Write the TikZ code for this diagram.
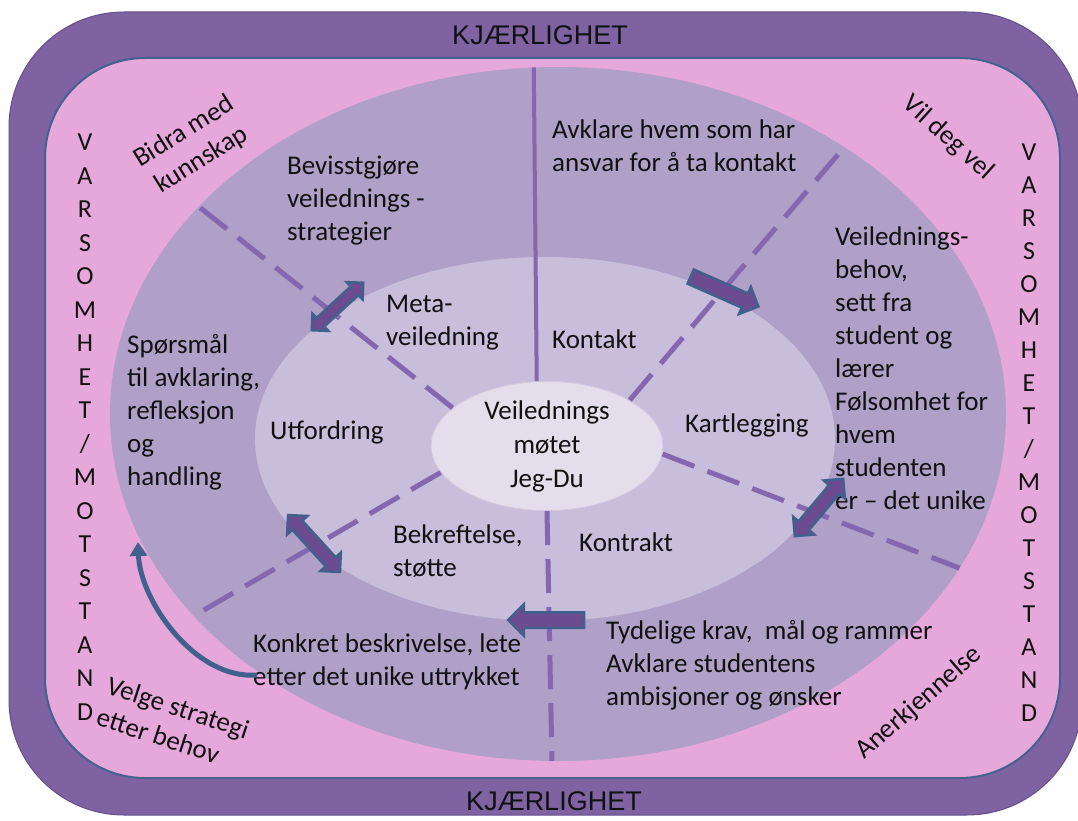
\documentclass[tikz,border=0pt]{standalone}
\usepackage{fontspec}
\setmainfont{Carlito}
\newfontfamily\capsfont{Liberation Sans}
\usetikzlibrary{shapes.geometric, shapes.arrows, arrows.meta}
\definecolor{loveband}{HTML}{7E62A1}
\definecolor{bandedge}{HTML}{654E8C}
\definecolor{pinkzone}{HTML}{E6A8DB}
\definecolor{zoneedge}{HTML}{44618F}
\definecolor{ringfill}{HTML}{B09FC7}
\definecolor{midfill}{HTML}{C8BDDA}
\definecolor{corefill}{HTML}{E4DEEC}
\definecolor{coreedge}{HTML}{D2C8E0}
\definecolor{spokepurple}{HTML}{8467AE}
\definecolor{arrowfill}{HTML}{6C4B90}
\definecolor{arrowedge}{HTML}{41618D}
\definecolor{inktext}{HTML}{111111}

\begin{document}
\begin{tikzpicture}[x=1pt, y=-1pt,
  txt/.style={font=\fontsize{27}{33}\selectfont, text=inktext, inner sep=0pt, align=left},
  wall/.style={font=\fontsize{26}{33.5}\selectfont, text=inktext, inner sep=0pt, align=center},
  spoke/.style={draw=spokepurple, line width=4pt},
  dashspoke/.style={draw=spokepurple, line width=5pt, dash pattern=on 34pt off 14pt},
  twoway/.style={double arrow, draw=arrowedge, fill=arrowfill, line width=2.5pt, double arrow tip angle=90},
  oneway/.style={single arrow, draw=arrowedge, fill=arrowfill, line width=2.5pt, single arrow tip angle=90}]
  \useasboundingbox (0,0) rectangle (1078,821);
  \clip (0,0) rectangle (1078,821);
  \fill[white] (0,0) rectangle (1078,821);

  \path[fill=loveband, draw=bandedge, line width=1pt, rounded corners=115pt] (9,12) rectangle (1082,815);
  \path[fill=pinkzone, draw=zoneedge, line width=2pt, rounded corners=100pt] (45,58) rectangle (1060,778);

  \node[font=\capsfont\fontsize{27}{30}\selectfont, text=inktext] (lovetop) at (540,35) {KJÆRLIGHET};
  \node[font=\capsfont\fontsize{27}{30}\selectfont, text=inktext] (lovebottom) at (554,801) {KJÆRLIGHET};

  \node[ellipse, fill=ringfill, minimum width=896pt, minimum height=694pt, inner sep=0pt] (ring) at (558,414) {};
  \node[ellipse, fill=midfill, minimum width=580pt, minimum height=364pt, inner sep=0pt] (middle) at (545,439) {};
  \node[ellipse, fill=corefill, draw=coreedge, line width=1pt, minimum width=232pt, minimum height=124pt, inner sep=0pt,
    font=\fontsize{27}{34}\selectfont, text=inktext, align=center] (core) at (547,446) {Veilednings\\møtet\\Jeg-Du};

  \draw[spoke] (core.99) -- (ring.94);
  \draw[dashspoke] (core.29) -- (ring.43);
  \draw[dashspoke] (core.158) -- (ring.150);
  \draw[dashspoke] (core.194) -- (ring.209);
  \draw[dashspoke] (core.-4) -- (ring.-21);
  \draw[dashspoke] (core.-90) -- (ring.-91);

  \node[wall] (leftwall) at (85,427) {V\\A\\R\\S\\O\\M\\H\\E\\T\\/\\M\\O\\T\\S\\T\\A\\N\\D};
  \node[wall, font=\fontsize{26}{33}\selectfont] (rightwall) at (1029,433) {V\\A\\R\\S\\O\\M\\H\\E\\T\\/\\M\\O\\T\\S\\T\\A\\N\\D};

  \node[txt, align=center, rotate=32] (bidra) at (193,146) {Bidra med\\kunnskap};
  \node[txt, rotate=-42] (vildeg) at (948,138) {Vil deg vel};
  \node[txt, rotate=-18] (velge) at (173,723) {Velge strategi\\etter behov};
  \node[txt, rotate=41] (anerkj) at (919,703) {Anerkjennelse};

  \node[txt, anchor=west] (bevisst) at (287,201) {Bevisstgjøre\\veilednings -\\strategier};
  \node[txt, anchor=west] (avklare) at (552,146) {Avklare hvem som har\\ansvar for å ta kontakt};
  \node[txt, anchor=west] (meta) at (386,323) {Meta-\\veiledning};
  \node[txt, anchor=west] (kontakt) at (552,339) {Kontakt};
  \node[txt, anchor=west] (behov) at (835,368) {Veilednings-\\behov,\\sett fra\\student og\\lærer\\Følsomhet for\\hvem\\studenten\\er – det unike};
  \node[txt, anchor=west] (sporsmal) at (127,412) {Spørsmål\\til avklaring,\\refleksjon\\og\\handling};
  \node[txt, anchor=west] (utfordring) at (270,432) {Utfordring};
  \node[txt, anchor=west] (kartlegging) at (685,425) {Kartlegging};
  \node[txt, anchor=west] (bekreft) at (393,551) {Bekreftelse,\\støtte};
  \node[txt, anchor=west] (kontrakt) at (579,542) {Kontrakt};
  \node[txt, anchor=west] (konkret) at (253,662) {Konkret beskrivelse, lete\\etter det unike uttrykket};
  \node[txt, anchor=west] (tydelige) at (606,665) {Tydelige krav,\ \ mål og rammer\\Avklare studentens\\ambisjoner og ønsker};

  \node[twoway, minimum height=70pt, inner sep=4.5pt, double arrow head extend=6pt, rotate=42.7] (metaarrow) at (337.5,306.5) {};
  \node[oneway, minimum height=74pt, inner sep=6.5pt, single arrow head extend=7pt, rotate=-23.8] (needarrow) at (721,290) {};
  \node[twoway, minimum height=75pt, inner sep=5.5pt, double arrow head extend=7pt, rotate=49.9] (uniquearrow) at (819,507.5) {};
  \node[twoway, minimum height=77pt, inner sep=5.5pt, double arrow head extend=7pt, rotate=-47.6] (supportarrow) at (314,543.5) {};
  \node[oneway, minimum height=76pt, inner sep=6.5pt, single arrow head extend=8pt, rotate=180] (demandarrow) at (550,620) {};

  \coordinate (loopstart) at (257,675);
  \coordinate (loopend) at (138,542);
  \draw[arrowedge, line width=5pt, -{Triangle[length=14pt, width=17pt]}] (loopstart) .. controls (195,680) and (140,600) .. (loopend);
\end{tikzpicture}
\end{document}
